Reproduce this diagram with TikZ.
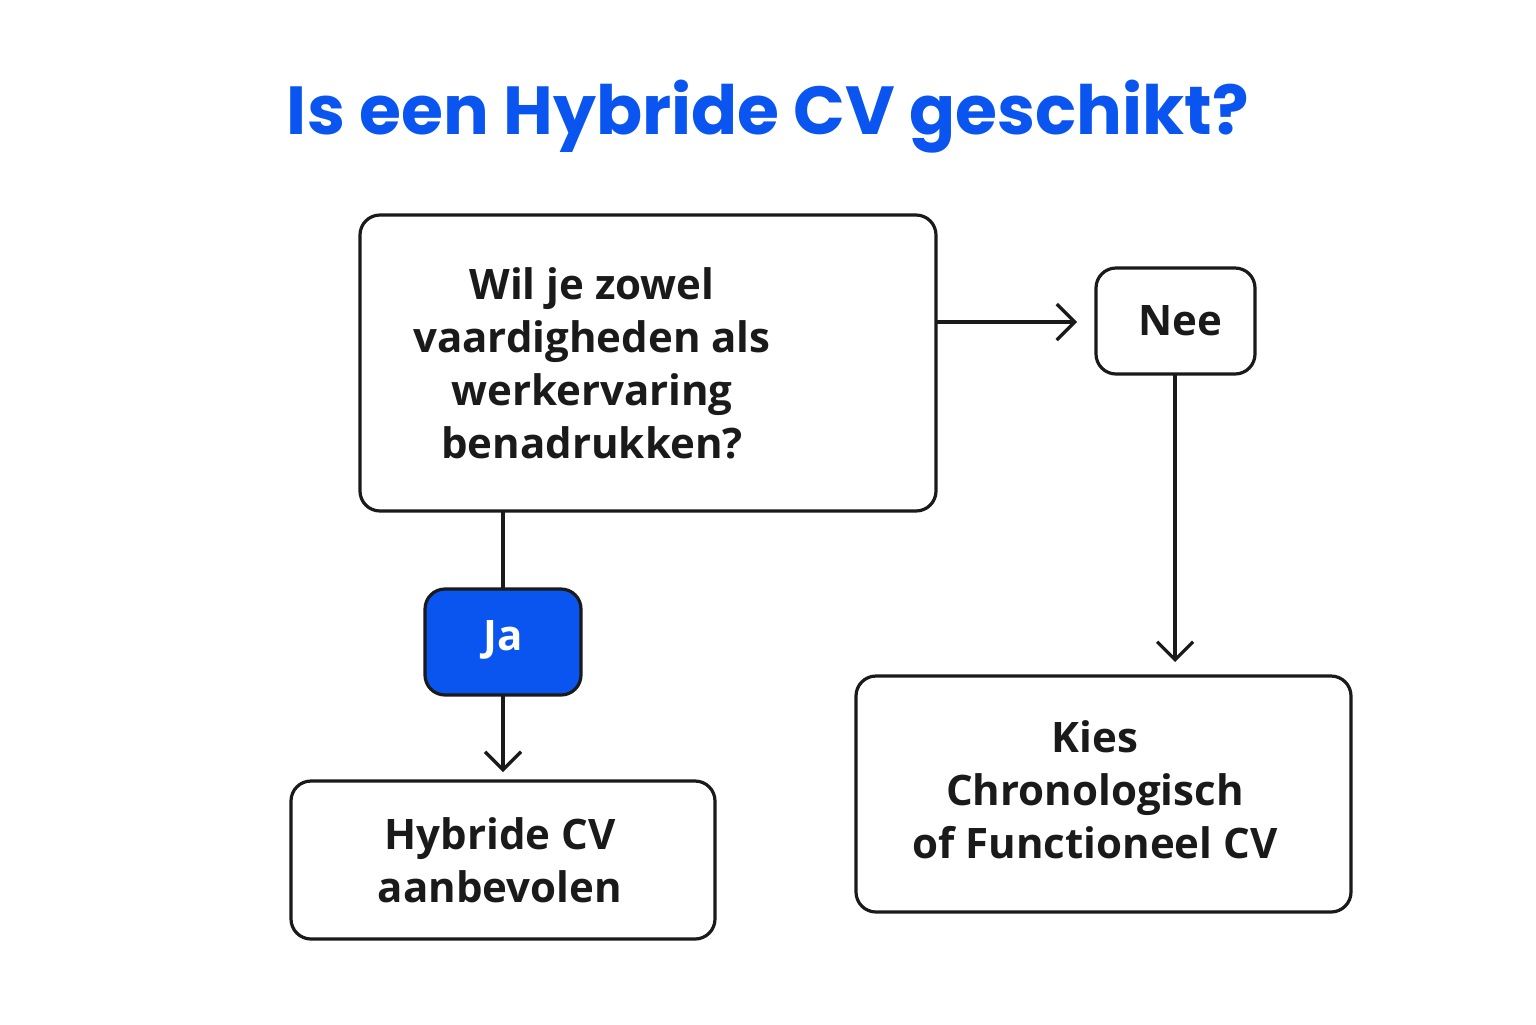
\documentclass[tikz,border=0pt]{standalone}
\usepackage{fontspec}
\setmainfont{Open Sans}
\newfontfamily\titlefont{Poppins}
\usetikzlibrary{arrows.meta}
\definecolor{myblue}{HTML}{0A55F0}
\definecolor{ink}{HTML}{1A1A1A}
\begin{document}
\begin{tikzpicture}[x=0.5pt,y=-0.5pt,
  box/.style={draw=ink,line width=1.6pt,rounded corners=10pt,fill=white},
  lbl/.style={text=ink,font=\fontsize{21}{26.5}\selectfont\bfseries,align=center},
  conn/.style={draw=ink,line width=1.6pt},
  arr/.style={conn,-{Straight Barb[length=9pt,width=18pt,line width=1.6pt]}}]
\fill[white] (0,0) rectangle (1536,1024);
\node[text=myblue,font=\titlefont\fontsize{34}{40}\selectfont\bfseries] (title) at (768,117) {Is een Hybride CV geschikt?};
\draw[box] (360,215) rectangle (936,511);
\node[lbl] (q) at (592,363) {Wil je zowel\\vaardigheden als\\werkervaring\\benadrukken?};
\coordinate (qr) at (936,322);
\coordinate (qb) at (503,511);
\draw[box] (1096,268) rectangle (1255,374);
\node[lbl] (nee) at (1180,321) {Nee};
\coordinate (neel) at (1077,322);
\coordinate (neeb) at (1175,374);
\draw[box,fill=myblue] (425,589) rectangle (581,695);
\node[lbl,text=white] (ja) at (503,640) {Ja};
\coordinate (jat) at (503,589);
\coordinate (jab) at (503,695);
\draw[box] (291,781) rectangle (715,939);
\node[lbl] (hyb) at (500,860) {Hybride CV\\aanbevolen};
\coordinate (hybt) at (503,772);
\draw[box] (856,676) rectangle (1351,912);
\node[lbl] (kies) at (1095,790) {Kies\\Chronologisch\\of Functioneel CV};
\coordinate (kiest) at (1175,662);
\draw[arr] (qr) -- (neel);
\draw[arr] (neeb) -- (kiest);
\draw[conn] (qb) -- (jat);
\draw[arr] (jab) -- (hybt);
\end{tikzpicture}
\end{document}
